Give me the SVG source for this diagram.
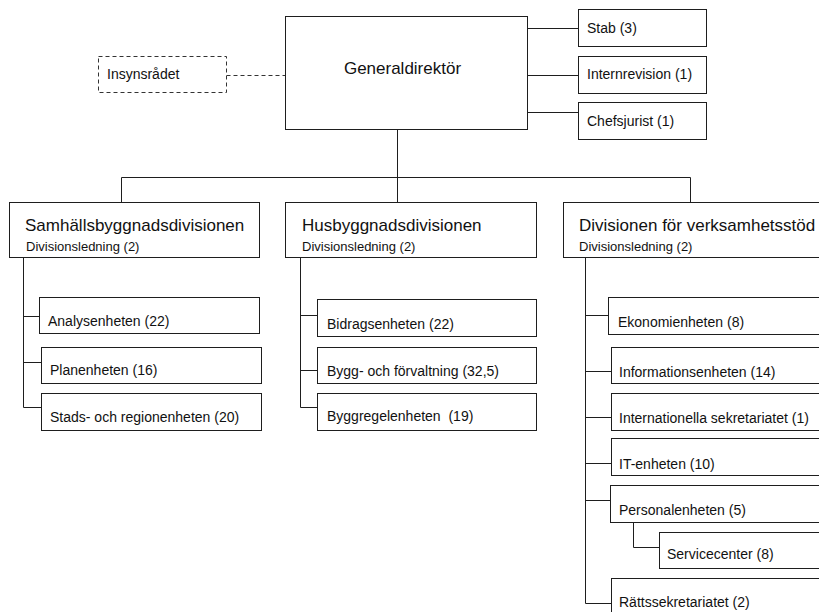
<svg xmlns="http://www.w3.org/2000/svg" width="819" height="612" viewBox="0 0 819 612">
<style>
.b{fill:#fff;stroke:#1e1e1e;stroke-width:1}
.d{fill:#fff;stroke:#333;stroke-width:1;stroke-dasharray:4 3}
.c{fill:none;stroke:#1e1e1e;stroke-width:1}
.cd{fill:none;stroke:#333;stroke-width:1;stroke-dasharray:4 3}
text{font-family:"Liberation Sans",Arial,sans-serif;fill:#111}
.t{font-size:14px}
.s{font-size:13px}
.h{font-size:17px}
</style>
<rect width="819" height="612" fill="#fff"/>
<g id="connectors">
<path class="cd" d="M226.5 75.5H285.5"/>
<path class="c" d="M527.5 28.5H578.5M527.5 75.5H578.5M527.5 112.5H578.5"/>
<path class="c" d="M397.5 129.5V202.5M121.5 177.5H690.5M121.5 177.5V202.5M690.5 177.5V202.5"/>
<path class="c" d="M23.5 258V407.5H41.5M23.5 316.5H39.5M23.5 362.5H41.5"/>
<path class="c" d="M300.5 258V407.5H317.5M300.5 315.5H317.5M300.5 370.5H317.5"/>
<path class="c" d="M585.5 258V603.5H611.5M585.5 315.5H608.5M585.5 371.5H611.5M585.5 417.5H611.5M585.5 463.5H611.5M585.5 500.5H610.5"/>
<path class="c" d="M633.5 522.5V547.5H659.5"/>
</g>
<g id="gd"><rect class="b" x="285.5" y="16.5" width="242" height="113"/><text class="h" x="402.5" y="74" text-anchor="middle">Generaldirektör</text></g>
<g id="insyn"><rect class="d" x="98.5" y="56.5" width="128" height="36"/><text class="t" x="107" y="79">Insynsrådet</text></g>
<g id="stab"><rect class="b" x="578.5" y="9.5" width="128" height="37"/><text class="t" x="587" y="33">Stab (3)</text></g>
<g id="intern"><rect class="b" x="578.5" y="56.5" width="128" height="37"/><text class="t" x="587" y="79">Internrevision (1)</text></g>
<g id="chef"><rect class="b" x="578.5" y="102.5" width="128" height="37"/><text class="t" x="587" y="126">Chefsjurist (1)</text></g>
<g id="samh"><rect class="b" x="9.5" y="202.5" width="250" height="55"/><text class="h" x="25" y="231">Samhällsbyggnadsdivisionen</text><text class="s" x="26" y="251">Divisionsledning (2)</text></g>
<g id="hus"><rect class="b" x="285.5" y="202.5" width="251" height="55"/><text class="h" x="302" y="231">Husbyggnadsdivisionen</text><text class="s" x="302" y="251">Divisionsledning (2)</text></g>
<g id="vst"><rect class="b" x="563.5" y="202.5" width="270" height="55"/><text class="h" x="579" y="231">Divisionen för verksamhetsstöd</text><text class="s" x="579" y="251">Divisionsledning (2)</text></g>
<g id="analys"><rect class="b" x="39.5" y="297.5" width="220" height="36"/><text class="t" x="48" y="326">Analysenheten (22)</text></g>
<g id="plan"><rect class="b" x="41.5" y="347.5" width="220" height="36"/><text class="t" x="50" y="375">Planenheten (16)</text></g>
<g id="stads"><rect class="b" x="41.5" y="393.5" width="220" height="37"/><text class="t" x="50" y="422">Stads- och regionenheten (20)</text></g>
<g id="bidrag"><rect class="b" x="317.5" y="299.5" width="219" height="37"/><text class="t" x="327" y="329">Bidragsenheten (22)</text></g>
<g id="bygg"><rect class="b" x="317.5" y="347.5" width="219" height="36"/><text class="t" x="327" y="376">Bygg- och förvaltning (32,5)</text></g>
<g id="byggregel"><rect class="b" x="317.5" y="393.5" width="219" height="37"/><text class="t" x="327" y="421" xml:space="preserve">Byggregelenheten  (19)</text></g>
<g id="ekonomi"><rect class="b" x="608.5" y="297.5" width="230" height="37"/><text class="t" x="618" y="327">Ekonomienheten (8)</text></g>
<g id="info"><rect class="b" x="611.5" y="347.5" width="230" height="36"/><text class="t" x="619" y="377">Informationsenheten (14)</text></g>
<g id="intl"><rect class="b" x="611.5" y="393.5" width="230" height="37"/><text class="t" x="619" y="423">Internationella sekretariatet (1)</text></g>
<g id="it"><rect class="b" x="611.5" y="438.5" width="230" height="37"/><text class="t" x="619" y="469">IT-enheten (10)</text></g>
<g id="personal"><rect class="b" x="610.5" y="485.5" width="230" height="37"/><text class="t" x="619" y="515">Personalenheten (5)</text></g>
<g id="service"><rect class="b" x="659.5" y="532.5" width="180" height="36"/><text class="t" x="667" y="559">Servicecenter (8)</text></g>
<g id="ratt"><rect class="b" x="611.5" y="578.5" width="230" height="45"/><text class="t" x="619" y="607">Rättssekretariatet (2)</text></g>
</svg>
